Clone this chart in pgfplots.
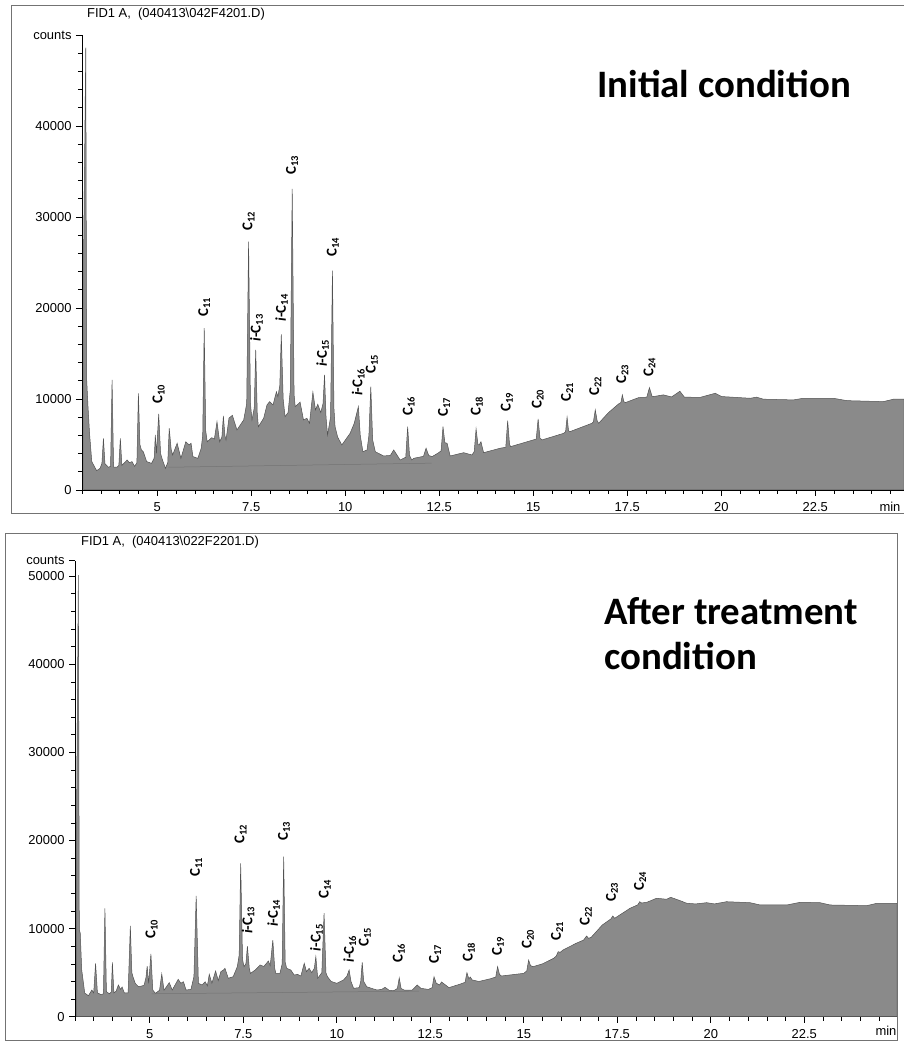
\documentclass[border=0pt]{standalone}
\usepackage{fontspec}
\setmainfont{Liberation Sans}
\newfontfamily\carlito{Carlito}
\usepackage{pgfplots}
\pgfplotsset{compat=1.18}
\definecolor{fillg}{gray}{0.54}
\definecolor{lineg}{gray}{0.32}
\definecolor{frameg}{gray}{0.45}
\newcommand{\pk}{\carlito\bfseries\fontsize{15}{16}\selectfont}
\tikzset{lab/.style={rotate=90, anchor=west, inner sep=1pt, font=\pk}}
\pgfplotsset{
  chrom/.style={
    scale only axis, width=822bp,
    ymin=0,
    axis lines*=left,
    tick align=outside,
    scaled y ticks=false, scaled x ticks=false,
    xtick={5,7.5,10,12.5,15,17.5,20,22.5},
    xticklabels={5,7.5,10,12.5,15,17.5,20,22.5},
    minor xtick={3,3.5,...,24.5},
    major tick length=6bp, minor tick length=4bp,
    tick style={black, line width=0.6bp},
    axis line style={black, line width=0.8bp},
    ticklabel style={font=\fontsize{13}{15}\selectfont},
    xticklabel style={yshift=-3bp},
    yticklabel style={xshift=-1bp},
    clip=true,
  },
  peaks/.style={fill=fillg, draw=lineg, line width=0.5bp},
}
\begin{document}
\begin{tikzpicture}
\useasboundingbox (0,0) rectangle (904bp,1042bp);
% panel frames
\draw[frameg, line width=0.8bp] (11bp,1037bp) rectangle (912bp,529bp);
\draw[frameg, line width=0.8bp] (5bp,509bp) rectangle (897bp,2bp);
% ================= TOP PANEL =================
\begin{axis}[chrom, at={(82bp,552bp)}, anchor=south west,
  height=455bp, xmin=3, xmax=24.86, ymax=50000,
  ytick={0,10000,20000,30000,40000,50000},
  yticklabels={0,10000,20000,30000,40000,counts},
  minor ytick={2000,4000,6000,8000,12000,14000,16000,18000,22000,24000,26000,28000,32000,34000,36000,38000,42000,44000,46000,48000},
]
\addplot[peaks] coordinates {
(3.04,25000)(3.10,48600)(3.125,12100)(3.16,9160)(3.20,6270)(3.26,3120)(3.39,2120)(3.48,2380)
(3.53,2930)(3.57,5680)(3.61,2900)(3.70,2500)(3.76,2600)(3.80,12100)(3.84,2500)(3.93,2500)
(3.98,2700)(4.02,5680)(4.06,2700)(4.20,3300)(4.26,3000)(4.33,3120)(4.40,2600)(4.46,3000)
(4.50,10630)(4.54,5000)(4.58,4400)(4.63,4210)(4.72,3120)(4.85,2930)(4.92,3500)(4.95,6050)
(4.98,4030)(5.04,8360)(5.09,4000)(5.14,3300)(5.22,2380)(5.28,3000)(5.32,6780)(5.37,4500)
(5.41,3850)(5.53,5130)(5.63,3480)(5.76,5300)(5.85,4950)(5.90,5130)(5.95,3670)(6.08,3480)
(6.17,4590)(6.21,6000)(6.25,17800)(6.29,6500)(6.33,5300)(6.45,5750)(6.52,5600)(6.59,7500)
(6.66,5300)(6.72,5800)(6.76,8140)(6.80,6000)(6.83,5500)(6.91,7920)(7.00,8200)(7.12,6600)
(7.30,7700)(7.38,9500)(7.43,27300)(7.48,9500)(7.52,7700)(7.58,9000)(7.62,15400)(7.66,8500)
(7.69,6960)(7.83,7880)(7.92,9350)(7.99,9710)(8.08,9350)(8.17,10800)(8.21,10260)(8.26,11500)
(8.30,17100)(8.35,10000)(8.40,8060)(8.48,8500)(8.54,11000)(8.59,33100)(8.64,10500)(8.67,9160)
(8.80,9650)(8.89,7700)(8.98,7880)(9.05,7330)(9.14,10750)(9.21,8800)(9.27,9420)(9.35,8510)
(9.41,9500)(9.45,12650)(9.49,8000)(9.53,6050)(9.61,8000)(9.66,24100)(9.70,9000)(9.73,6960)
(9.80,5800)(9.91,4950)(10.13,6230)(10.24,7330)(10.35,9160)(10.40,6000)(10.47,4210)(10.58,4400)
(10.63,6000)(10.68,11370)(10.73,5500)(10.80,4210)(11.02,3740)(11.20,3800)(11.29,4400)(11.46,3300)
(11.61,3600)(11.66,6960)(11.71,3800)(11.77,3300)(11.82,3480)(12.08,3700)(12.15,4590)(12.22,3800)
(12.31,3670)(12.46,4030)(12.55,4300)(12.60,6960)(12.65,5200)(12.71,5130)(12.79,3740)(13.15,4100)
(13.37,3850)(13.43,4200)(13.48,6710)(13.53,5000)(13.56,4950)(13.61,5300)(13.68,4100)(14.12,4590)
(14.27,4700)(14.32,7630)(14.37,5000)(14.40,4770)(15.00,5500)(15.08,5600)(15.13,7810)(15.18,5700)
(15.23,5500)(15.81,6230)(15.86,6400)(15.90,8000)(15.94,6500)(15.98,6420)(16.56,7330)(16.60,7500)
(16.65,8800)(16.70,7600)(16.74,7330)(17.00,8500)(17.27,9460)(17.33,9600)(17.37,10450)(17.41,9700)
(17.45,9600)(17.80,10150)(18.02,10200)(18.09,11250)(18.16,10300)(18.20,10270)(18.46,10450)(18.68,10230)
(18.90,10850)(19.02,10200)(19.44,10180)(19.84,10630)(20.01,10270)(20.77,10080)(20.94,10200)(21.12,9980)
(21.92,9900)(22.18,10080)(22.98,10080)(23.34,9820)(24.31,9710)(24.58,9980)(24.86,9980)
} \closedcycle;
\addplot[black!55, line width=0.5bp] coordinates {(5.3,2500)(12.3,2950)};
\node[lab] at (axis cs:5.04,9350) {C\textsubscript{10}};
\node[lab] at (axis cs:6.25,18900) {C\textsubscript{11}};
\node[lab] at (axis cs:7.43,28400) {C\textsubscript{12}};
\node[lab] at (axis cs:7.64,16200) {\textit{i}-C\textsubscript{13}};
\node[lab] at (axis cs:8.31,18400) {\textit{i}-C\textsubscript{14}};
\node[lab] at (axis cs:8.59,34500) {C\textsubscript{13}};
\node[lab] at (axis cs:9.67,25500) {C\textsubscript{14}};
\node[lab] at (axis cs:9.40,13400) {\textit{i}-C\textsubscript{15}};
\node[lab] at (axis cs:10.35,10200) {\textit{i}-C\textsubscript{16}};
\node[lab] at (axis cs:10.71,12650) {C\textsubscript{15}};
\node[lab] at (axis cs:11.69,8030) {C\textsubscript{16}};
\node[lab] at (axis cs:12.63,7920) {C\textsubscript{17}};
\node[lab] at (axis cs:13.50,8030) {C\textsubscript{18}};
\node[lab] at (axis cs:14.30,8470) {C\textsubscript{19}};
\node[lab] at (axis cs:15.12,8800) {C\textsubscript{20}};
\node[lab] at (axis cs:15.90,9570) {C\textsubscript{21}};
\node[lab] at (axis cs:16.65,10230) {C\textsubscript{22}};
\node[lab] at (axis cs:17.37,11550) {C\textsubscript{23}};
\node[lab] at (axis cs:18.09,12320) {C\textsubscript{24}};
\end{axis}
% ================= BOTTOM PANEL =================
\begin{axis}[chrom, at={(75bp,25.3bp)}, anchor=south west,
  height=456bp, xmin=3, xmax=24.98, ymax=51750,
  ytick={0,10000,20000,30000,40000,50000,51750},
  yticklabels={0,10000,20000,30000,40000,50000,counts},
  minor ytick={2000,4000,6000,8000,12000,14000,16000,18000,22000,24000,26000,28000,32000,34000,36000,38000,42000,44000,46000,48000},
]
\addplot[peaks] coordinates {
(3.04,22000)(3.09,50100)(3.115,9840)(3.14,9500)(3.18,5300)(3.26,2690)(3.36,2380)(3.45,3030)
(3.50,2700)(3.55,6060)(3.60,2700)(3.70,2500)(3.76,2600)(3.80,12300)(3.84,2840)(3.92,2600)
(3.97,2800)(4.00,6170)(4.04,2700)(4.10,2900)(4.16,3600)(4.22,3100)(4.26,3370)(4.32,2690)
(4.42,2700)(4.48,10300)(4.52,5000)(4.55,4540)(4.61,3790)(4.70,3400)(4.80,3500)(4.85,3600)
(4.90,4500)(4.93,5750)(4.97,3790)(5.03,7120)(5.08,3030)(5.15,2650)(5.26,3000)(5.32,4850)
(5.38,3000)(5.52,3860)(5.60,3030)(5.76,4240)(5.83,3800)(5.90,3970)(5.97,3030)(6.10,3100)
(6.18,4540)(6.24,13700)(6.30,3790)(6.40,3600)(6.48,3970)(6.54,3500)(6.59,4810)(6.66,3800)
(6.76,5190)(6.83,4100)(6.90,5110)(6.97,5300)(7.01,5490)(7.10,4360)(7.23,4540)(7.34,5680)
(7.39,7000)(7.43,17400)(7.48,6500)(7.52,5680)(7.57,6000)(7.61,8020)(7.66,5500)(7.69,4920)
(7.82,5300)(7.95,5870)(8.05,5700)(8.17,6320)(8.22,5800)(8.29,8700)(8.34,5500)(8.37,4920)
(8.48,4920)(8.54,6000)(8.58,18160)(8.62,6200)(8.66,5490)(8.77,5300)(8.86,4730)(8.95,4800)
(9.04,4620)(9.13,6060)(9.19,5110)(9.26,5490)(9.33,5000)(9.40,5500)(9.44,6810)(9.49,4360)
(9.60,5000)(9.66,11740)(9.71,5000)(9.75,4540)(9.85,4000)(10.00,3790)(10.18,4170)(10.27,4600)
(10.33,5300)(10.38,4000)(10.45,3220)(10.60,3300)(10.64,4000)(10.68,6170)(10.72,4000)(10.80,3400)
(11.07,3030)(11.20,3100)(11.29,3330)(11.40,3000)(11.52,2950)(11.62,3200)(11.67,4400)(11.72,3200)
(11.80,3030)(12.02,3030)(12.15,3600)(12.25,3220)(12.45,3100)(12.55,3300)(12.60,4540)(12.66,3800)
(12.75,3600)(12.80,3940)(13.00,3300)(13.30,3700)(13.43,3900)(13.48,5000)(13.53,4300)(13.57,4500)
(13.62,4170)(13.80,4000)(14.10,4300)(14.25,4500)(14.30,5680)(14.35,4800)(14.40,4620)(15.00,4920)
(15.08,5200)(15.13,6430)(15.18,5800)(15.25,5680)(15.50,6000)(15.80,6630)(15.87,6900)(15.92,7380)
(15.97,7300)(16.05,7570)(16.40,8330)(16.60,8700)(16.68,9160)(16.73,8900)(16.80,9000)(17.10,10410)
(17.33,11100)(17.38,11430)(17.43,11170)(17.84,12300)(18.05,12700)(18.10,13050)(18.15,12900)(18.30,13000)
(18.55,13440)(18.82,13330)(18.93,13550)(19.18,13170)(19.36,12870)(19.60,12800)(19.89,12940)(20.10,12800)
(20.42,13050)(21.05,12940)(21.32,12680)(22.03,12680)(22.39,12980)(22.92,12940)(23.19,12680)(24.17,12600)
(24.44,12870)(24.98,12870)
} \closedcycle;
\addplot[black!55, line width=0.5bp] coordinates {(5.05,2600)(12.2,2900)};
\node[lab] at (axis cs:5.05,8700) {C\textsubscript{10}};
\node[lab] at (axis cs:6.24,15740) {C\textsubscript{11}};
\node[lab] at (axis cs:7.43,19500) {C\textsubscript{12}};
\node[lab] at (axis cs:7.63,9280) {\textit{i}-C\textsubscript{13}};
\node[lab] at (axis cs:8.31,10080) {\textit{i}-C\textsubscript{14}};
\node[lab] at (axis cs:8.59,19830) {C\textsubscript{13}};
\node[lab] at (axis cs:9.68,13250) {C\textsubscript{14}};
\node[lab] at (axis cs:9.46,7300) {\textit{i}-C\textsubscript{15}};
\node[lab] at (axis cs:10.35,6000) {\textit{i}-C\textsubscript{16}};
\node[lab] at (axis cs:10.75,7800) {C\textsubscript{15}};
\node[lab] at (axis cs:11.66,6000) {C\textsubscript{16}};
\node[lab] at (axis cs:12.63,5870) {C\textsubscript{17}};
\node[lab] at (axis cs:13.53,6100) {C\textsubscript{18}};
\node[lab] at (axis cs:14.31,6780) {C\textsubscript{19}};
\node[lab] at (axis cs:15.11,7570) {C\textsubscript{20}};
\node[lab] at (axis cs:15.89,8480) {C\textsubscript{21}};
\node[lab] at (axis cs:16.66,10180) {C\textsubscript{22}};
\node[lab] at (axis cs:17.36,12900) {C\textsubscript{23}};
\node[lab] at (axis cs:18.11,14150) {C\textsubscript{24}};
\end{axis}
% titles and annotations
\node[font=\fontsize{13}{15}\selectfont, inner sep=0] at (176bp,1028bp) {FID1 A,\ \ (040413\textbackslash 042F4201.D)};
\node[font=\fontsize{13}{15}\selectfont, inner sep=0] at (170bp,500bp) {FID1 A,\ \ (040413\textbackslash 022F2201.D)};
\node[font=\fontsize{13}{15}\selectfont, inner sep=0] at (890bp,535bp) {min};
\node[font=\fontsize{13}{15}\selectfont, inner sep=0] at (886bp,11bp) {min};
\node[font=\carlito\bfseries\fontsize{39}{45}\selectfont, anchor=base west, inner sep=0] at (597bp,944bp) {Initial condition};
\node[font=\carlito\bfseries\fontsize{39}{45}\selectfont, anchor=base west, inner sep=0] at (604bp,417bp) {After treatment};
\node[font=\carlito\bfseries\fontsize{39}{45}\selectfont, anchor=base west, inner sep=0] at (604bp,372bp) {condition};
\end{tikzpicture}
\end{document}
